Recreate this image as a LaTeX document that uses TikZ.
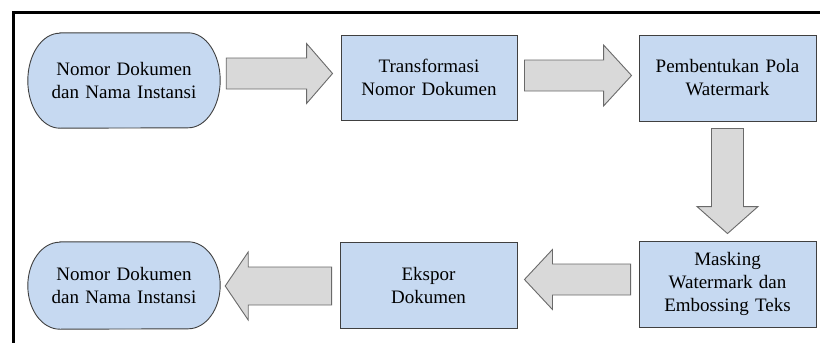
\documentclass[tikz,border=0pt]{standalone}
\usepackage{fontspec}
\setmainfont{Liberation Serif}
\usetikzlibrary{calc,backgrounds}
\definecolor{boxblue}{HTML}{C6D9F1}
\definecolor{boxline}{HTML}{404040}
\definecolor{arrowfill}{HTML}{D9D9D9}
\definecolor{arrowline}{HTML}{6A6A6A}
\tikzset{
  stepbox/.style={draw=boxline, line width=0.9pt, fill=boxblue, rectangle,
    inner sep=0pt, minimum width=177pt, minimum height=86pt,
    text width=170pt, align=center, font=\fontsize{19}{23}\selectfont},
  termnode/.style={rectangle, inner sep=0pt, minimum width=192pt,
    text width=185pt, align=center, font=\fontsize{19}{23}\selectfont},
  termshape/.style={draw=boxline, line width=0.9pt, fill=boxblue},
  blockarrow/.style={draw=arrowline, line width=0.9pt, fill=arrowfill, line join=miter}
}
% block arrow: start, tip, shaft half width, head half width, head length
\newcommand\blockarrow[5]{%
  \coordinate (ba-s) at #1;
  \coordinate (ba-e) at #2;
  \coordinate (ba-h) at ($(ba-e)!#5!(ba-s)$);
  \draw[blockarrow] ($(ba-s)!#3!90:(ba-e)$) -- ($(ba-h)!#3!-90:(ba-s)$)
    -- ($(ba-h)!#4!-90:(ba-s)$) -- (ba-e) -- ($(ba-h)!#4!90:(ba-s)$)
    -- ($(ba-h)!#3!90:(ba-s)$) -- ($(ba-s)!#3!-90:(ba-e)$) -- cycle;
}
% terminator outline with elliptical ends around a named node
\newcommand\terminator[2]{%
  \draw[termshape] ([xshift=32pt]#1.north west) -- ([xshift=-32pt]#1.north east)
    arc[start angle=90, end angle=-90, x radius=32pt, y radius=#2]
    -- ([xshift=32pt]#1.south west)
    arc[start angle=-90, end angle=-270, x radius=32pt, y radius=#2] -- cycle;
}
\begin{document}
\begin{tikzpicture}[x=1pt, y=-1pt]
  \useasboundingbox (0,0) rectangle (820,343);
  \clip (0,0) rectangle (820,343);
  % page frame
  \draw[line width=3pt, black] (13,400) -- (13,12) -- (900,12);

  % nodes
  \node[termnode, minimum height=95pt] (start) at (124,80.5)
    {Nomor Dokumen\\dan Nama Instansi};
  \node[stepbox, minimum width=176pt, minimum height=85pt] (transform) at (429,77.5)
    {Transformasi\\Nomor Dokumen};
  \node[stepbox] (pattern) at (727.5,78)
    {Pembentukan Pola\\Watermark};
  \node[stepbox] (masking) at (727.5,284)
    {Masking\\Watermark dan\\Embossing Teks};
  \node[stepbox] (export) at (428.5,285)
    {Ekspor\\Dokumen};
  \node[termnode, minimum height=87pt] (result) at (124,285.5)
    {Nomor Dokumen\\dan Nama Instansi};

  \begin{scope}[on background layer]
    \fill[white] (0,0) rectangle (820,343);
    \terminator{start}{47.5pt}
    \terminator{result}{43.5pt}
  \end{scope}

  % block arrows between steps
  \blockarrow{([shift={(6pt,7pt)}]start.east)}{([shift={(-8pt,4pt)}]transform.west)}{15.5pt}{30pt}{26pt}
  \blockarrow{([shift={(7pt,2pt)}]transform.east)}{([shift={(-7pt,2.5pt)}]pattern.west)}{15.5pt}{30.5pt}{28pt}
  \blockarrow{([yshift=-7pt]pattern.south)}{([yshift=7pt]masking.north)}{16pt}{30.5pt}{27pt}
  \blockarrow{([shift={(-8pt,4.5pt)}]masking.west)}{([shift={(7pt,5.5pt)}]export.east)}{15.5pt}{30pt}{28pt}
  \blockarrow{([shift={(-8pt,-1pt)}]export.west)}{([shift={(5pt,-0.5pt)}]result.east)}{19pt}{34pt}{23pt}
\end{tikzpicture}
\end{document}
